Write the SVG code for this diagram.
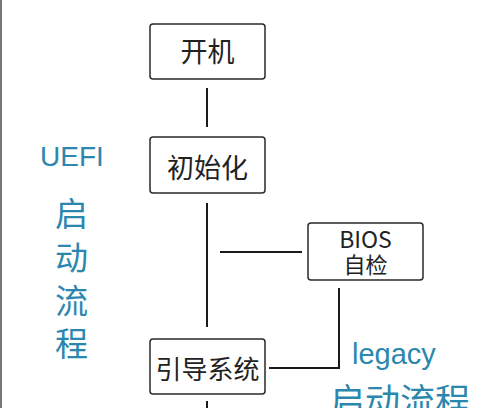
<svg xmlns="http://www.w3.org/2000/svg" width="500" height="408" viewBox="0 0 500 408">
<style>
.box{fill:#fff;stroke:#2a2a2a;stroke-width:1.5}
.t{font-family:"Noto Sans CJK SC","Liberation Sans",sans-serif;fill:#222;text-anchor:middle}
.c{stroke:#1a1a1a;stroke-width:2;fill:none}
.b{font-family:"Noto Sans CJK SC","Liberation Sans",sans-serif;fill:#2b87ad;text-anchor:middle}
.l{font-family:"Liberation Sans","Noto Sans",sans-serif;fill:#2b87ad}
</style>
<rect width="500" height="408" fill="#fff"/>
<line x1="1" y1="0" x2="1" y2="408" stroke="#777" stroke-width="2"/>
<g id="connectors">
<line class="c" x1="207" y1="88" x2="207" y2="127"/>
<line class="c" x1="207" y1="203" x2="207" y2="327"/>
<line class="c" x1="220" y1="252" x2="302" y2="252"/>
<polyline class="c" points="339,288 339,368 269,368"/>
<line class="c" x1="207" y1="401" x2="207" y2="408"/>
</g>
<g id="n-kaiji">
<rect class="box" x="150" y="24" width="115" height="55" rx="3"/>
<text class="t" x="207.5" y="62" font-size="27">开机</text>
</g>
<g id="n-init">
<rect class="box" x="150" y="137" width="115" height="56" rx="3"/>
<text class="t" x="207.5" y="178" font-size="27">初始化</text>
</g>
<g id="n-bios">
<rect class="box" x="308" y="223" width="115" height="57" rx="3"/>
<text class="t" x="365.5" y="248" font-size="23">BIOS</text>
<text class="t" x="365.5" y="273" font-size="22">自检</text>
</g>
<g id="n-boot">
<rect class="box" x="150" y="339" width="115" height="55" rx="3"/>
<text class="t" x="207.5" y="379" font-size="26">引导系统</text>
</g>
<g id="label-uefi">
<text class="l" x="40" y="166" font-size="28">UEFI</text>
<text class="b" x="71.5" y="226" font-size="33">启</text>
<text class="b" x="71.5" y="270" font-size="33">动</text>
<text class="b" x="71.5" y="313" font-size="33">流</text>
<text class="b" x="71.5" y="356" font-size="33">程</text>
</g>
<g id="label-legacy">
<text class="l" x="352" y="364" font-size="29">legacy</text>
<text class="b" x="400" y="414" font-size="35">启动流程</text>
</g>
</svg>
